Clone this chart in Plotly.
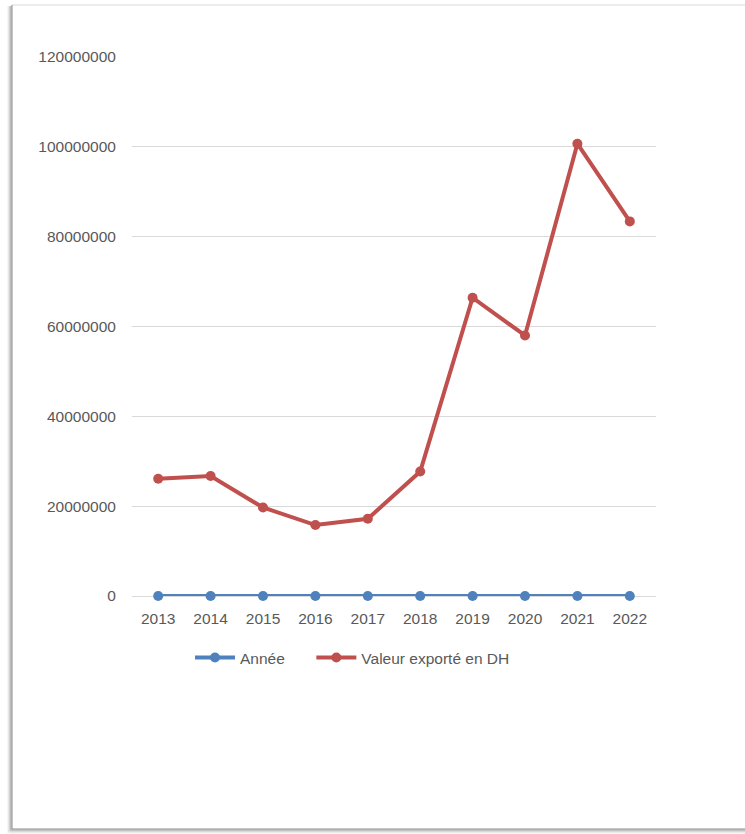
import plotly.graph_objects as go

years = ["2013", "2014", "2015", "2016", "2017", "2018", "2019", "2020", "2021", "2022"]
annee = [2013, 2014, 2015, 2016, 2017, 2018, 2019, 2020, 2021, 2022]
valeur = [26100000, 26700000, 19700000, 15800000, 17200000, 27700000, 66400000, 58000000, 100700000, 83400000]
y_ticks = [0, 20000000, 40000000, 60000000, 80000000, 100000000, 120000000]
names = ["Année", "Valeur exporté en DH"]

W, H = 745, 834
L, R, T, B = 132, 656, 57, 596

def px(x):
    return (x - L) / (R - L)

def py(y):
    return (B - y) / (B - T)

font = dict(family="Liberation Sans, Arial, sans-serif", size=15.5, color="#595959")

fig = go.Figure()
fig.add_trace(go.Scatter(x=years, y=annee, name=names[0] + "\u00a0" * 5, mode="lines+markers",
                         line=dict(color="#4F81BD", width=4),
                         marker=dict(color="#4F81BD", size=10), cliponaxis=False))
fig.add_trace(go.Scatter(x=years, y=valeur, name=names[1], mode="lines+markers",
                         line=dict(color="#C0504D", width=4),
                         marker=dict(color="#C0504D", size=10), cliponaxis=False))

shapes = []
shadow = [(8, "#f0f0f0"), (9, "#dedede"), (10, "#c4c4c4"), (11, "#a8a8a8")]
for off, col in shadow:
    shapes.append(dict(type="line", xref="paper", yref="paper",
                       x0=px(off), x1=px(off), y0=py(6), y1=py(829 + (12 - off)),
                       line=dict(color=col, width=1.2)))
    shapes.append(dict(type="line", xref="paper", yref="paper",
                       x0=px(off), x1=px(760), y0=py(829 + (12 - off)), y1=py(829 + (12 - off)),
                       line=dict(color=col, width=1.2)))
shapes.append(dict(type="line", xref="paper", yref="paper",
                   x0=px(12), x1=px(760), y0=py(5), y1=py(5),
                   line=dict(color="#e6e6e6", width=1.5)))
shapes.append(dict(type="line", xref="paper", yref="paper",
                   x0=px(12), x1=px(12), y0=py(5), y1=py(829),
                   line=dict(color="#8c8c8c", width=1)))
shapes.append(dict(type="line", xref="paper", yref="paper",
                   x0=px(12), x1=px(760), y0=py(829), y1=py(829),
                   line=dict(color="#8c8c8c", width=1)))

fig.update_layout(
    width=W, height=H,
    margin=dict(l=L, r=W - R, t=T, b=H - B),
    paper_bgcolor="white", plot_bgcolor="white",
    font=font,
    showlegend=True,
    legend=dict(orientation="h", x=px(190), xanchor="left", y=py(658), yanchor="middle",
                font=font, itemwidth=40, bgcolor="rgba(0,0,0,0)"),
    xaxis=dict(type="category", range=[-0.5, 9.5], showgrid=False, showline=False, zeroline=False,
               ticks="outside", ticklen=8, tickcolor="rgba(0,0,0,0)", tickfont=font,
               fixedrange=True),
    yaxis=dict(range=[0, 120000000], tickvals=y_ticks,
               ticktext=[str(v) for v in y_ticks],
               showgrid=True, gridcolor="#d9d9d9", gridwidth=1.3,
               zeroline=True, zerolinecolor="#d9d9d9", zerolinewidth=1.3,
               showline=False, ticks="outside", ticklen=12, tickcolor="rgba(0,0,0,0)",
               tickfont=font, fixedrange=True),
    shapes=shapes,
)

fig.write_html("out.html")
